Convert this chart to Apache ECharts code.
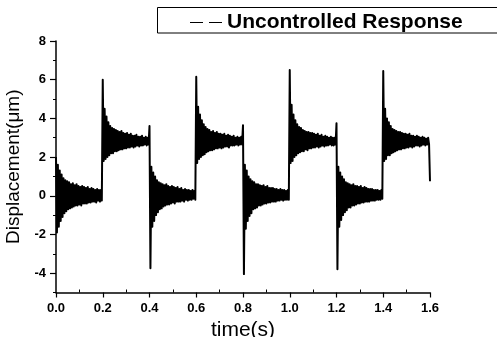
<!DOCTYPE html>
<html>
<head>
<meta charset="utf-8">
<script src="https://cdn.jsdelivr.net/npm/echarts@6/dist/echarts.min.js"></script>
<style>
html,body{margin:0;padding:0;background:#fff;}
#c{width:497px;height:337px;}
</style>
</head>
<body>
<div id="c"></div>
<script>
// ---- data ----
const seriesName = 'Uncontrolled Response';
const xTickLabels = ['0.0','0.2','0.4','0.6','0.8','1.0','1.2','1.4','1.6'];
const yTickValues = [-4,-2,0,2,4,6,8];
const xMinorTicks = [0.1,0.3,0.5,0.7,0.9,1.1,1.3,1.5];
const yMinorTicks = [-5,-3,-1,1,3,5,7];
const sampleStep = 0.004; // s, sampling interval of each segment
const segmentStarts = [0.0, 0.2, 0.4, 0.6, 0.8, 1.0, 1.2, 1.4];
const seg1 = [2.0,-1.9,1.6,-1.6,1.3,-1.3,1.1,-1.1, 0.9,-0.9,0.8,-0.8,0.75,-0.7,0.7,-0.65, 0.6,-0.6,0.65,-0.55,0.55,-0.5,0.6,-0.5, 0.5,-0.45,0.45,-0.5,0.5,-0.4,0.45,-0.4, 0.4,-0.4,0.45,-0.35,0.35,-0.35,0.4,-0.3, 0.35,-0.3,0.3,-0.35,0.35,-0.25,0.3,-0.3, 0.3,-0.25];
const seg2 = [6.0,1.8,4.5,1.9,4.1,2.0,3.8,2.1, 3.6,2.2,3.5,2.2,3.45,2.3,3.4,2.3, 3.35,2.35,3.3,2.4,3.35,2.4,3.25,2.45, 3.2,2.45,3.25,2.5,3.15,2.5,3.2,2.55, 3.1,2.5,3.1,2.55,3.15,2.6,3.05,2.55, 3.05,2.6,3.1,2.6,3.0,2.65,3.05,2.6, 3.0,2.65];
const seg3 = [3.6,-3.75,1.5,-1.6,1.2,-1.3,1.0,-1.0, 0.8,-0.85,0.7,-0.7,0.65,-0.65,0.6,-0.55, 0.55,-0.5,0.6,-0.45,0.5,-0.45,0.45,-0.4, 0.5,-0.35,0.45,-0.4,0.4,-0.3,0.45,-0.3, 0.35,-0.3,0.4,-0.25,0.3,-0.3,0.35,-0.2, 0.3,-0.25,0.3,-0.2,0.25,-0.2,0.3,-0.15, 0.25,-0.2];
const seg4 = [6.15,1.7,4.6,1.9,4.2,2.0,3.9,2.1, 3.7,2.15,3.55,2.25,3.45,2.3,3.4,2.35, 3.3,2.35,3.35,2.4,3.25,2.45,3.3,2.45, 3.2,2.5,3.2,2.45,3.15,2.5,3.2,2.55, 3.1,2.55,3.15,2.5,3.1,2.6,3.05,2.6, 3.1,2.6,3.0,2.65,3.05,2.6,3.0,2.65, 3.05,2.65];
const seg5 = [3.65,-4.05,1.6,-1.7,1.3,-1.3,1.0,-1.05, 0.85,-0.9,0.75,-0.7,0.7,-0.65,0.6,-0.6, 0.6,-0.5,0.55,-0.5,0.5,-0.45,0.55,-0.4, 0.45,-0.4,0.5,-0.35,0.4,-0.35,0.4,-0.3, 0.4,-0.3,0.35,-0.3,0.35,-0.25,0.3,-0.25, 0.35,-0.2,0.3,-0.25,0.3,-0.2,0.25,-0.2, 0.3,-0.2];
const seg6 = [6.5,1.7,4.7,1.8,4.2,2.0,3.9,2.1, 3.7,2.2,3.55,2.25,3.5,2.3,3.4,2.3, 3.35,2.4,3.3,2.35,3.3,2.45,3.25,2.45, 3.25,2.5,3.2,2.5,3.15,2.55,3.2,2.5, 3.1,2.55,3.15,2.6,3.05,2.55,3.1,2.6, 3.05,2.6,3.0,2.65,3.05,2.6,3.0,2.6, 3.0,2.65];
const seg7 = [3.75,-3.8,1.5,-1.6,1.2,-1.25,1.0,-1.0, 0.85,-0.85,0.7,-0.75,0.65,-0.6,0.6,-0.6, 0.55,-0.5,0.6,-0.5,0.5,-0.45,0.5,-0.4, 0.45,-0.4,0.5,-0.35,0.4,-0.35,0.45,-0.3, 0.4,-0.3,0.35,-0.3,0.35,-0.25,0.35,-0.25, 0.3,-0.25,0.3,-0.2,0.3,-0.2,0.25,-0.2, 0.3,-0.15];
const seg8 = [6.45,1.8,4.5,1.9,4.0,2.1,3.8,2.1, 3.6,2.2,3.45,2.25,3.4,2.3,3.35,2.35, 3.3,2.4,3.3,2.4,3.25,2.45,3.2,2.45, 3.2,2.5,3.15,2.5,3.2,2.55,3.1,2.5, 3.1,2.55,3.05,2.6,3.1,2.6,3.05,2.55, 3.0,2.6,3.05,2.65,3.0,2.6,2.95,2.65, 3.0,2.65, 0.75];
const segments = [seg1, seg2, seg3, seg4, seg5, seg6, seg7, seg8];

// build [time, value] pairs
const lineData = [];
segments.forEach((seg, k) => {
  seg.forEach((v, i) => {
    lineData.push([+(segmentStarts[k] + i * sampleStep).toFixed(4), v]);
  });
});

const FONT = '"Liberation Sans", Arial, Helvetica, sans-serif';
const chart = echarts.init(document.getElementById('c'), null, {renderer: 'canvas'});
chart.setOption({
  animation: false,
  backgroundColor: '#fff',
  grid: {left: 56, right: 67, top: 41, bottom: 44.5, containLabel: false, outerBoundsMode: 'none'},
  legend: {
    data: [{name: seriesName, icon: 'path://M0,0H13V1H0Z M19,0H32V1H19Z'}],
    left: 190, top: 12,
    padding: 0,
    itemWidth: 32, itemHeight: 1,
    itemGap: 6,
    itemStyle: {color: '#000', borderWidth: 0},
    textStyle: {fontFamily: FONT, fontWeight: 'bold', fontSize: 21, color: '#000'}
  },
  graphic: [{
    type: 'rect', silent: true,
    shape: {x: 157.5, y: 7.5, width: 400, height: 25.5},
    style: {fill: 'none', stroke: '#000', lineWidth: 1}
  }],
  xAxis: [{
    type: 'value', min: 0, max: 1.6, interval: 0.2,
    position: 'bottom',
    name: 'time(s)', nameLocation: 'middle', nameGap: 24,
    nameTextStyle: {fontFamily: FONT, fontSize: 21, color: '#000'},
    axisLine: {show: true, onZero: false, lineStyle: {color: '#000', width: 1.5}},
    axisTick: {show: true, length: 5, lineStyle: {color: '#000', width: 1.2}},
    axisLabel: {fontFamily: FONT, fontWeight: 'bold', fontSize: 13, color: '#000', margin: 9,
      formatter: v => xTickLabels[Math.round(v / 0.2)]},
    splitLine: {show: false}
  }, {
    type: 'value', min: 0, max: 1.6,
    position: 'bottom', offset: 0,
    axisLine: {show: false, onZero: false},
    axisTick: {show: true, inside: true, length: 3, customValues: xMinorTicks, lineStyle: {color: '#000', width: 1}},
    axisLabel: {show: false},
    splitLine: {show: false}
  }],
  yAxis: [{
    type: 'value', min: -5, max: 8,
    position: 'left',
    name: 'Displacement(\u03bcm)', nameLocation: 'middle', nameGap: 26, nameRotate: 90,
    nameTextStyle: {fontFamily: FONT, fontSize: 19, color: '#000'},
    axisLine: {show: true, onZero: false, lineStyle: {color: '#000', width: 1.5}},
    axisTick: {show: true, length: 6, customValues: yTickValues, lineStyle: {color: '#000', width: 1.2}},
    axisLabel: {fontFamily: FONT, fontWeight: 'bold', fontSize: 13, color: '#000', margin: 10, customValues: yTickValues},
    splitLine: {show: false}
  }, {
    type: 'value', min: -5, max: 8,
    position: 'left', offset: 0,
    axisLine: {show: false, onZero: false},
    axisTick: {show: true, length: 3, customValues: yMinorTicks, lineStyle: {color: '#000', width: 1}},
    axisLabel: {show: false},
    splitLine: {show: false}
  }],
  series: [{
    name: seriesName,
    type: 'line',
    xAxisIndex: 0, yAxisIndex: 0,
    data: lineData,
    symbol: 'none',
    showSymbol: false,
    sampling: null,
    lineStyle: {color: '#000', width: 2, join: 'round'},
    itemStyle: {color: '#000'}
  }]
});
</script>
</body>
</html>
